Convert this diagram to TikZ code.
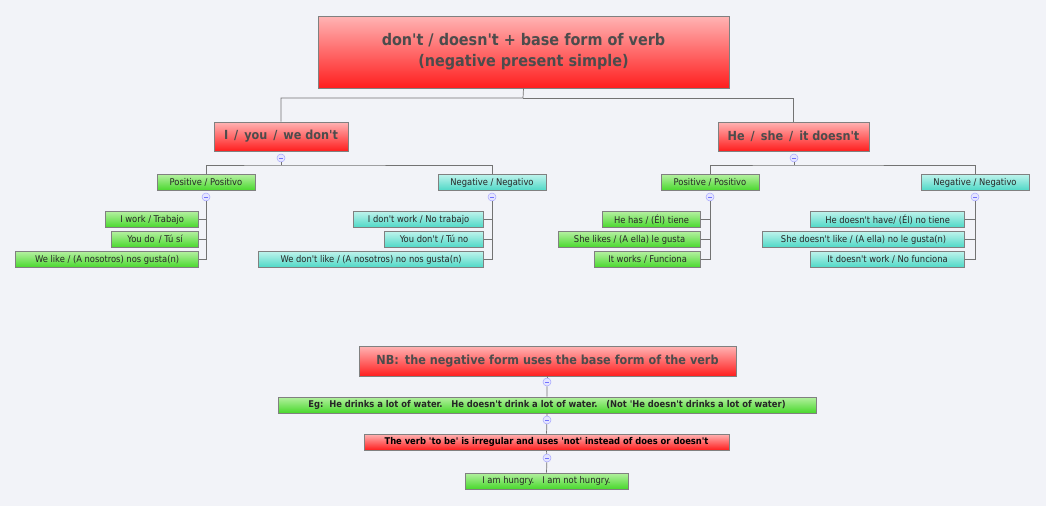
\documentclass[tikz,border=0pt]{standalone}
\usepackage{fontspec}
\setmainfont{DejaVu Sans Condensed}[Ligatures=TeXOff]
\definecolor{bg}{HTML}{F2F3F8}
\definecolor{rt}{HTML}{FFB4B4}\definecolor{rb}{HTML}{FF1E1E}
\definecolor{gt}{HTML}{B4F0A0}\definecolor{gb}{HTML}{48D82C}
\definecolor{ct}{HTML}{BDF3EC}\definecolor{cb}{HTML}{4ED8C6}
\begin{document}
\begin{tikzpicture}[x=1pt,y=-1pt,
  every node/.style={inner sep=0pt, text=black!85},
  box/.style={draw=black!50, line width=0.8pt, minimum height=16pt},
  red/.style={box, top color=rt, bottom color=rb},
  sm/.style={font=\fontsize{9.3}{11}\selectfont},
  grn/.style={box, top color=gt, bottom color=gb, sm},
  cyn/.style={box, top color=ct, bottom color=cb, sm},
  big/.style={font=\fontsize{12.5}{15}\selectfont\bfseries, text=black!70},
  leaf/.style={anchor=east},
  con/.style={draw=black!55, line width=0.7pt},
  col/.style={circle, minimum size=8pt, draw=blue!35, fill=blue!10, line width=0.5pt,
    path picture={\draw[blue!55,line width=0.6pt] ([xshift=-2pt]path picture bounding box.center) -- ([xshift=2pt]path picture bounding box.center);}}]
\fill[bg] (0,0) rectangle (1046,506);
\useasboundingbox (0,0) rectangle (1046,506);
% root
\node[red, minimum width=411pt, minimum height=72pt, align=center, font=\fontsize{16}{21}\selectfont\bfseries, text=black!70] (root) at (523.5,52) {don't / doesn't + base form of verb\\(negative present simple)};
\node[red, big, minimum width=134pt, minimum height=29pt] (L) at (281,136.5) {I\, /\, you\, /\, we don't};
\node[red, big, minimum width=151pt, minimum height=29pt] (R) at (793.5,136.5) {He\, /\, she\, /\, it doesn't};
\coordinate (rj) at (523,98);
\draw[con] (root.south) -- (rj) -| (L.north);
\draw[con] (rj) -| (R.north);
\node[col] (cL) at (281,158) {};
\node[col] (cR) at (794,158) {};
% level 2
\node[grn, minimum width=98pt] (LP) at (206,182.5) {Positive / Positivo};
\node[cyn, minimum width=108pt] (LN) at (492,182.5) {Negative / Negativo};
\node[grn, minimum width=98pt] (RP) at (710,182.5) {Positive / Positivo};
\node[cyn, minimum width=108pt] (RN) at (975,182.5) {Negative / Negativo};
\draw[con] (cL) -- (281,165) coordinate (jL); \draw[con] (LP.north) |- (jL) -| (LN.north);
\draw[con] (cR) -- (794,165) coordinate (jR); \draw[con] (RP.north) |- (jR) -| (RN.north);
\node[col] (cLP) at (206,197) {};
\node[col] (cLN) at (492,197) {};
\node[col] (cRP) at (710,197) {};
\node[col] (cRN) at (975,197) {};
% leaves
\node[grn,leaf,minimum width=93pt] (a1) at (199,219.5) {I work / Trabajo};
\node[grn,leaf,minimum width=87pt] (a2) at (199,239.5) {You do\, / Tú sí};
\node[grn,leaf,minimum width=183pt] (a3) at (199,259.5) {We like / (A nosotros) nos gusta(n)};
\node[cyn,leaf,minimum width=130pt] (b1) at (484,219.5) {I don't work / No trabajo};
\node[cyn,leaf,minimum width=99pt] (b2) at (484,239.5) {You don't / Tú no};
\node[cyn,leaf,minimum width=225pt] (b3) at (484,259.5) {We don't like / (A nosotros) no nos gusta(n)};
\node[grn,leaf,minimum width=98pt] (c1) at (701,219.5) {He has / (Él) tiene};
\node[grn,leaf,minimum width=142pt] (c2) at (701,239.5) {She likes / (A ella) le gusta};
\node[grn,leaf,minimum width=106pt] (c3) at (701,259.5) {It works / Funciona};
\node[cyn,leaf,minimum width=154pt] (d1) at (965,219.5) {He doesn't have/ (Él) no tiene};
\node[cyn,leaf,minimum width=202pt] (d2) at (965,239.5) {She doesn't like / (A ella) no le gusta(n)};
\node[cyn,leaf,minimum width=154pt] (d3) at (965,259.5) {It doesn't work / No funciona};
\foreach \c/\l in {cLP/a,cLN/b,cRP/c,cRN/d}{
  \draw[con] (\c) |- (\l3.east);
  \draw[con] (\l1.east) -| (\c);
  \draw[con] (\l2.east) -| (\c);
}
% bottom
\node[red, big, minimum width=377pt, minimum height=30pt] (nb) at (547.5,361) {NB:\, the negative form uses the base form of the verb};
\node[grn, minimum width=538pt, font=\fontsize{9.3}{11}\selectfont\bfseries] (eg) at (547,405) {Eg:\ \ He drinks a lot of water.\ \ \ He doesn't drink a lot of water.\ \ \ (Not 'He doesn't drinks a lot of water)};
\node[red, minimum width=365pt, font=\fontsize{9.3}{11}\selectfont\bfseries, text=black] (vb) at (546.5,442) {The verb 'to be' is irregular and uses 'not' instead of does or doesn't};
\node[grn, minimum width=163pt] (hu) at (546.5,481) {I am hungry.\ \ \ I am not hungry.};
\node[col] (k1) at (547,382) {};
\node[col] (k2) at (547,420) {};
\node[col] (k3) at (547,458) {};
\draw[con] (nb.south) -- (k1) -- (eg.north);
\draw[con] (eg.south) -- (k2) -- (vb.north);
\draw[con] (vb.south) -- (k3) -- (hu.north);
\end{tikzpicture}
\end{document}
